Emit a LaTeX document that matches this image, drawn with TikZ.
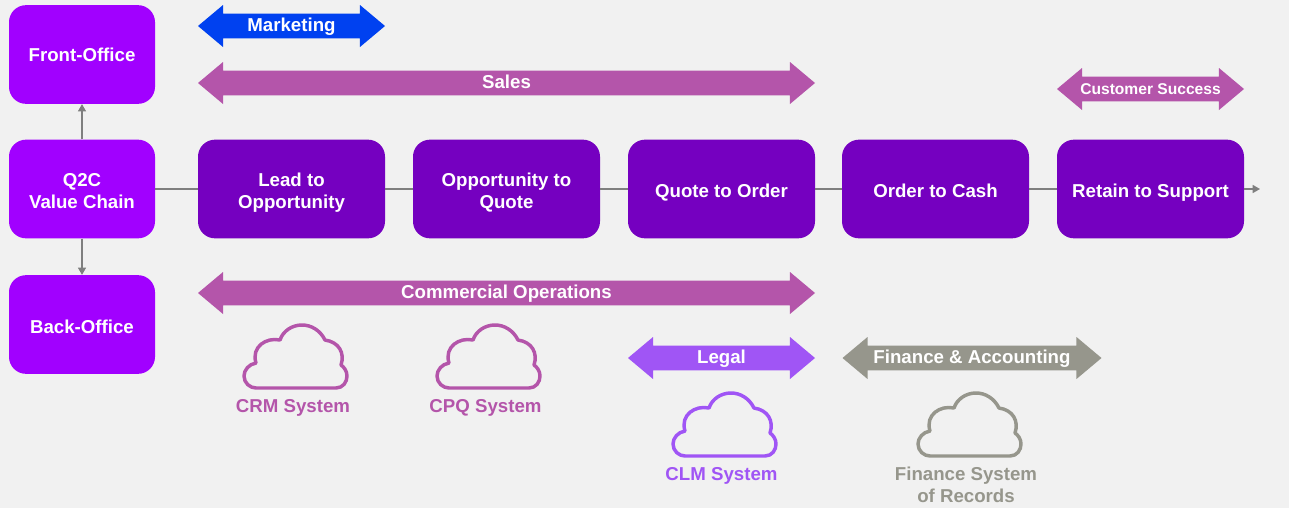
\documentclass[tikz,border=0pt]{standalone}
\usepackage{fontspec}
\setmainfont{Liberation Sans}
\usetikzlibrary{shapes.arrows,arrows.meta}
\definecolor{pagegray}{HTML}{F1F1F1}
\definecolor{brightpurple}{HTML}{A100FF}
\definecolor{darkpurple}{HTML}{7500C0}
\definecolor{orchid}{HTML}{B455AA}
\definecolor{mktblue}{HTML}{0041F0}
\definecolor{legalpurple}{HTML}{A055F5}
\definecolor{finegray}{HTML}{96968C}
\definecolor{linegray}{HTML}{7F7F7F}
\tikzset{
  officebox/.style={rectangle,rounded corners=12.75pt,fill=brightpurple,text=white,font=\bfseries\fontsize{14}{16.5}\selectfont,
    align=center,minimum width=109.5pt,minimum height=74pt,inner sep=0pt,
    execute at begin node={\rule{0pt}{17pt}},execute at end node={\rule[-4pt]{0pt}{4pt}}},
  stagebox/.style={officebox,fill=darkpurple,minimum width=140.25pt},
  twolines/.style={execute at begin node={\rule{0pt}{33.6pt}}},
  band/.style={double arrow,double arrow head extend=4.5pt,double arrow tip angle=80,shape border uses incircle=false,
    minimum width=31.5pt,inner sep=0pt,text=white,fill=orchid,font=\bfseries\fontsize{14}{16.5}\selectfont,
    text height=10pt,text depth=2.5pt},
  link/.style={draw=linegray,line width=1.1pt},
  linkarrow/.style={link,-{Triangle[length=5.5pt,width=6pt]}},
  cloudline/.style={line width=2.6pt,line join=round},
  cloudlabel/.style={font=\bfseries\fontsize{14}{16.5}\selectfont,align=center,inner sep=0pt}
}
\newcommand{\cloudpath}{(12,0) -- (92,0) .. controls (99,0) and (103,-6) .. (103,-12)
  .. controls (103,-17) and (100,-21) .. (97,-23)
  .. controls (101,-35) and (95,-46) .. (81,-48)
  .. controls (76,-58) and (67,-63) .. (58,-63)
  .. controls (48,-63) and (39,-57) .. (36,-48)
  .. controls (22,-51) and (7,-41) .. (12,-25)
  .. controls (5,-24) and (0,-18) .. (0,-12)
  .. controls (0,-5) and (6,0) .. (12,0) -- cycle}
\begin{document}
\begin{tikzpicture}[x=0.75pt,y=0.75pt,yscale=-1,xscale=1]
    \useasboundingbox[fill=pagegray] (0,0) rectangle (1289,508);

    \node[officebox,execute at end node={\rule[-6.8pt]{0pt}{6.8pt}}] (front) at (82,54.5) {Front-Office};
    \node[officebox,twolines] (q2c) at (82,189) {Q2C\\Value Chain};
    \node[officebox] (back) at (82,324.5) {Back-Office};

    \node[stagebox,twolines] (lead) at (291.5,189) {Lead to\\Opportunity};
    \node[stagebox,twolines] (opp) at (506.5,189) {Opportunity to\\Quote};
    \node[stagebox] (quote) at (721.5,189) {Quote to Order};
    \node[stagebox] (cash) at (935.5,189) {Order to Cash};
    \node[stagebox] (retain) at (1150.5,189) {Retain to Support};
    \coordinate (chainend) at (1260,189);

    \draw[link] (q2c) -- (lead);
    \draw[link] (lead) -- (opp);
    \draw[link] (opp) -- (quote);
    \draw[link] (quote) -- (cash);
    \draw[link] (cash) -- (retain);
    \draw[linkarrow] (retain) -- (chainend);
    \draw[linkarrow] (q2c) -- (front);
    \draw[linkarrow] (q2c) -- (back);

    \node[band,fill=mktblue,minimum height=140.25pt] (marketing) at (291.5,26) {Marketing};
    \node[band,minimum height=462.75pt] (sales) at (506.5,83) {Sales};
    \node[band,minimum height=140.25pt,font=\bfseries\fontsize{11.7}{13}\selectfont] (success) at (1150.5,89) {Customer Success};
    \node[band,minimum height=462.75pt] (commercial) at (506.5,293) {Commercial Operations};
    \node[band,fill=legalpurple,minimum height=140.25pt] (legal) at (721.5,358) {Legal};
    \node[band,fill=finegray,minimum height=194.25pt] (finance) at (972,358) {Finance \& Accounting};

    \draw[cloudline,draw=orchid,shift={(244,388)}] \cloudpath;
    \draw[cloudline,draw=orchid,shift={(437,388)}] \cloudpath;
    \draw[cloudline,draw=legalpurple,shift={(673,456)}] \cloudpath;
    \draw[cloudline,draw=finegray,shift={(918,456)}] \cloudpath;

    \node[cloudlabel,text=orchid] (crm) at (293,408) {CRM System};
    \node[cloudlabel,text=orchid] (cpq) at (485.5,408) {CPQ System};
    \node[cloudlabel,text=legalpurple] (clm) at (721.5,476) {CLM System};
    \node[cloudlabel,text=finegray] (records) at (966,485) {Finance System\\of Records};
\end{tikzpicture}
\end{document}
